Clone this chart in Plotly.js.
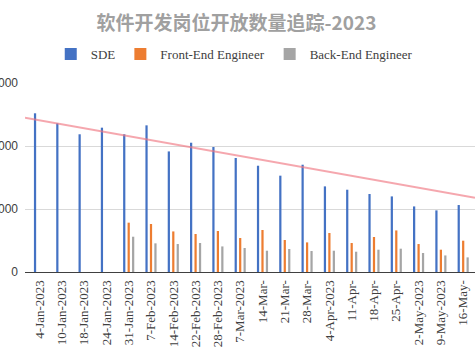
<!DOCTYPE html>
<html>
<head>
<meta charset="utf-8">
<script src="https://cdn.plot.ly/plotly-3.0.1.min.js"></script>
<style>
  html, body { margin: 0; padding: 0; overflow: hidden; background: #fff; width: 475px; height: 355px; }
  #chart { position: absolute; left: -30px; top: 0; width: 505px; height: 355px; }
</style>
</head>
<body>
<div id="chart"></div>
<script>
// ---- data ----
const categories = ["4-Jan-2023","10-Jan-2023","18-Jan-2023","24-Jan-2023","31-Jan-2023","7-Feb-2023","14-Feb-2023","22-Feb-2023","28-Feb-2023","7-Mar-2023","14-Mar-","21-Mar-","28-Mar-","4-Apr-2023","11-Apr-","18-Apr-","25-Apr-","2-May-2023","9-May-2023","16-May-"];
const sdeValues = [2519, 2360, 2186, 2291, 2186, 2328, 1914, 2052, 1984, 1810, 1687, 1529, 1703, 1359, 1306, 1238, 1200, 1041, 978, 1063];
const frontEndValues = [null, null, null, null, 783, 762, 644, 603, 651, 540, 667, 508, 470, 619, 460, 556, 660, 444, 354, 497];
const backEndValues = [null, null, null, null, 560, 455, 444, 460, 406, 381, 338, 365, 333, 338, 322, 354, 370, 302, 263, 232];
// linear trendline of SDE (fitted over the full series)
const trendIntercept = 2408;
const trendSlope = -62.9;
const seriesNames = ["SDE", "Front-End Engineer", "Back-End Engineer"];
const yTicks = [0, 1000, 2000, 3000];
const titleText = "软件开发岗位开放数量追踪-2023";

const idx = categories.map((_, i) => i);
const xRange = [-0.65, 19.53];
const trendX = xRange.slice();
const trendY = trendX.map(x => trendIntercept + trendSlope * x);

const colors = ["#4472C4", "#ED7D31", "#A5A5A5"];
const traces = [
  {type: "bar", name: seriesNames[0], x: idx, y: sdeValues, marker: {color: colors[0]}},
  {type: "bar", name: seriesNames[1], x: idx, y: frontEndValues, marker: {color: colors[1]}},
  {type: "bar", name: seriesNames[2], x: idx, y: backEndValues, marker: {color: colors[2]}},
  {type: "scatter", mode: "lines", x: trendX, y: trendY, showlegend: false, hoverinfo: "skip",
   line: {color: "rgba(240,120,130,0.65)", width: 2}}
];

const layout = {
  width: 505, height: 355,
  margin: {l: 55, r: 0, t: 83, b: 83},
  paper_bgcolor: "#fff", plot_bgcolor: "#fff",
  barmode: "group", bargap: 0.4, bargroupgap: 0.5,
  title: {
    text: titleText,
    font: {family: "Noto Sans CJK SC, sans-serif", size: 19, color: "#A0A0A0", weight: "bold"},
    xref: "paper", x: 0.47, xanchor: "center",
    yref: "container", y: 0.935, yanchor: "middle"
  },
  legend: {
    orientation: "h", xref: "paper", x: 0.465, xanchor: "center",
    yref: "paper", y: 1.153, yanchor: "middle",
    font: {family: "Liberation Serif, serif", size: 13, color: "#404040"},
    itemwidth: 30, traceorder: "normal"
  },
  xaxis: {
    type: "linear", range: xRange,
    tickmode: "array", tickvals: idx, ticktext: categories,
    tickangle: -90,
    tickfont: {family: "Liberation Serif, serif", size: 13, color: "#404040"},
    showgrid: false, zeroline: false,
    showline: true, linecolor: "#404040", linewidth: 1,
    ticks: "", ticklabelstandoff: 2, fixedrange: true
  },
  yaxis: {
    range: [0, 3000],
    tickmode: "array", tickvals: yTicks, ticktext: yTicks.map(String),
    tickfont: {family: "Liberation Sans, sans-serif", size: 12, color: "#404040"},
    showgrid: true, gridcolor: "#D9D9D9", gridwidth: 1,
    zeroline: false, showline: false, ticks: "", ticklabelstandoff: 6
  },
  showlegend: true
};

Plotly.newPlot("chart", traces, layout, {displayModeBar: false, staticPlot: true});
</script>
</body>
</html>
